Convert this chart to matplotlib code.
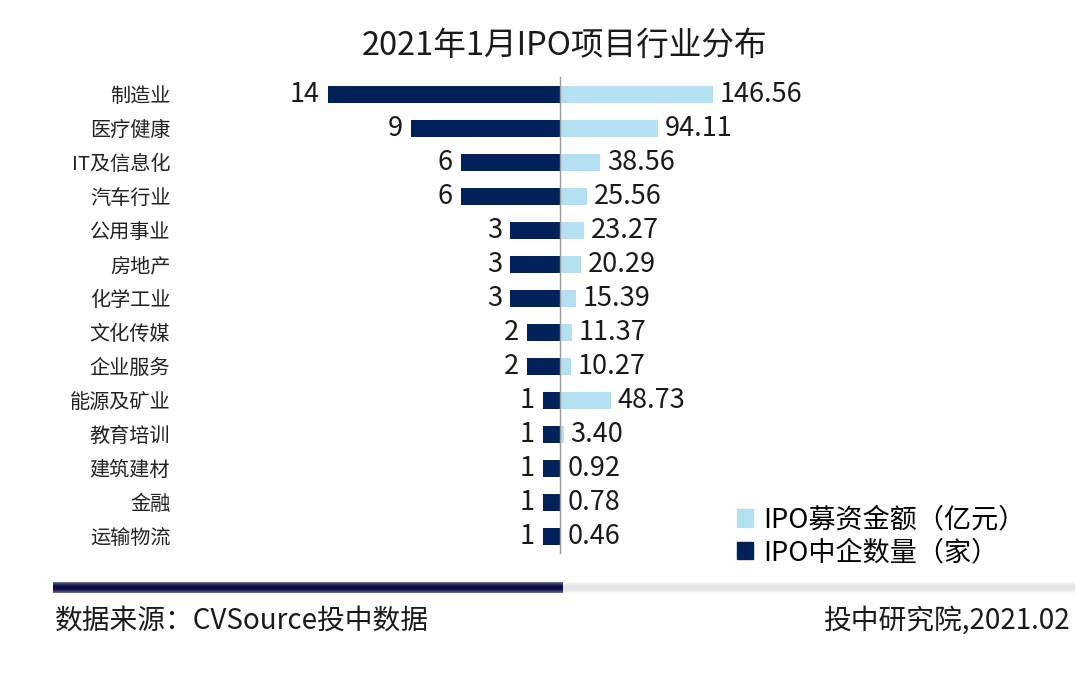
import numpy as np
import matplotlib
matplotlib.use("Agg")
import matplotlib.pyplot as plt
from matplotlib.patches import Patch
from matplotlib.colors import LinearSegmentedColormap

plt.rcParams['font.family'] = ['Noto Sans CJK SC', 'DejaVu Sans']

# data
industries = ['制造业', '医疗健康', 'IT及信息化', '汽车行业', '公用事业', '房地产', '化学工业',
              '文化传媒', '企业服务', '能源及矿业', '教育培训', '建筑建材', '金融', '运输物流']
counts = [14, 9, 6, 6, 3, 3, 3, 2, 2, 1, 1, 1, 1, 1]
amounts = [146.56, 94.11, 38.56, 25.56, 23.27, 20.29, 15.39, 11.37, 10.27, 48.73, 3.40, 0.92, 0.78, 0.46]

navy = '#00215A'
light = '#B3E1F1'

W, H = 1080, 697
fig = plt.figure(figsize=(W / 100, H / 100), dpi=100)

def fx(px):
    return px / W

def fy(py):
    return 1 - py / H

center = 560
ax_bot = fy(553)
ax_h = 476 / H
axL = fig.add_axes([fx(180), ax_bot, fx(center - 180), ax_h])
axR = fig.add_axes([fx(center), ax_bot, fx(1000 - center), ax_h])

y = np.arange(len(industries))

axL.barh(y, counts, height=0.5, color=navy)
axL.set_xlim((center - 180) / 16.57, 0)
axL.set_ylim(len(industries) - 0.5, -0.5)
axL.set_yticks(y)
axL.set_yticklabels(industries, fontsize=14.5, color='#222222')
axL.tick_params(axis='y', length=0, pad=7)
axL.set_xticks([])
for s in axL.spines.values():
    s.set_visible(False)
for yi, v in zip(y, counts):
    axL.annotate(str(v), (v, yi), xytext=(-6, 0), textcoords='offset points',
                 ha='right', va='center', fontsize=19.5, color='#1a1a1a')

axR.barh(y, amounts, height=0.5, color=light)
axR.set_xlim(0, (1000 - center) / 1.044)
axR.set_ylim(len(industries) - 0.5, -0.5)
axR.set_xticks([])
axR.set_yticks([])
for k, s in axR.spines.items():
    s.set_visible(k == 'left')
axR.spines['left'].set_color('#999999')
axR.spines['left'].set_linewidth(1.0)
for yi, v in zip(y, amounts):
    axR.annotate(f'{v:.2f}', (v, yi), xytext=(5, 0), textcoords='offset points',
                 ha='left', va='center', fontsize=19.5, color='#1a1a1a')

fig.text(fx(565), fy(46), '2021年1月IPO项目行业分布', ha='center', va='center',
         fontsize=23.5, color='#1a1a1a')

handles = [Patch(color=light, label='IPO募资金额（亿元）'),
           Patch(color=navy, label='IPO中企数量（家）')]
fig.legend(handles=handles, loc='upper left', bbox_to_anchor=(fx(723), fy(493)),
           frameon=False, fontsize=19.5, handlelength=0.6, handleheight=0.6,
           handletextpad=0.4, labelspacing=0.2, borderpad=0)

# separator bar with vertical shading
grad = np.abs(np.linspace(-1, 1, 20))[:, None] ** 2
axb = fig.add_axes([fx(53), fy(593), fx(1075 - 53), 11 / H])
axb.axis('off')
cm_dark = LinearSegmentedColormap.from_list('d', ['#0A0C40', '#6A70A0'])
cm_grey = LinearSegmentedColormap.from_list('g', ['#E4E4E4', '#FAFAFA'])
axb.imshow(grad, cmap=cm_dark, aspect='auto', extent=(53, 563, 0, 1))
axb.imshow(grad, cmap=cm_grey, aspect='auto', extent=(563, 1075, 0, 1))
axb.set_xlim(53, 1075)
axb.set_ylim(0, 1)

fig.text(fx(55), fy(621), '数据来源：CVSource投中数据', ha='left', va='center',
         fontsize=20, color='#1a1a1a')
fig.text(fx(1070), fy(621), '投中研究院,2021.02', ha='right', va='center',
         fontsize=20, color='#1a1a1a')

fig.savefig('out.png', dpi=100)
